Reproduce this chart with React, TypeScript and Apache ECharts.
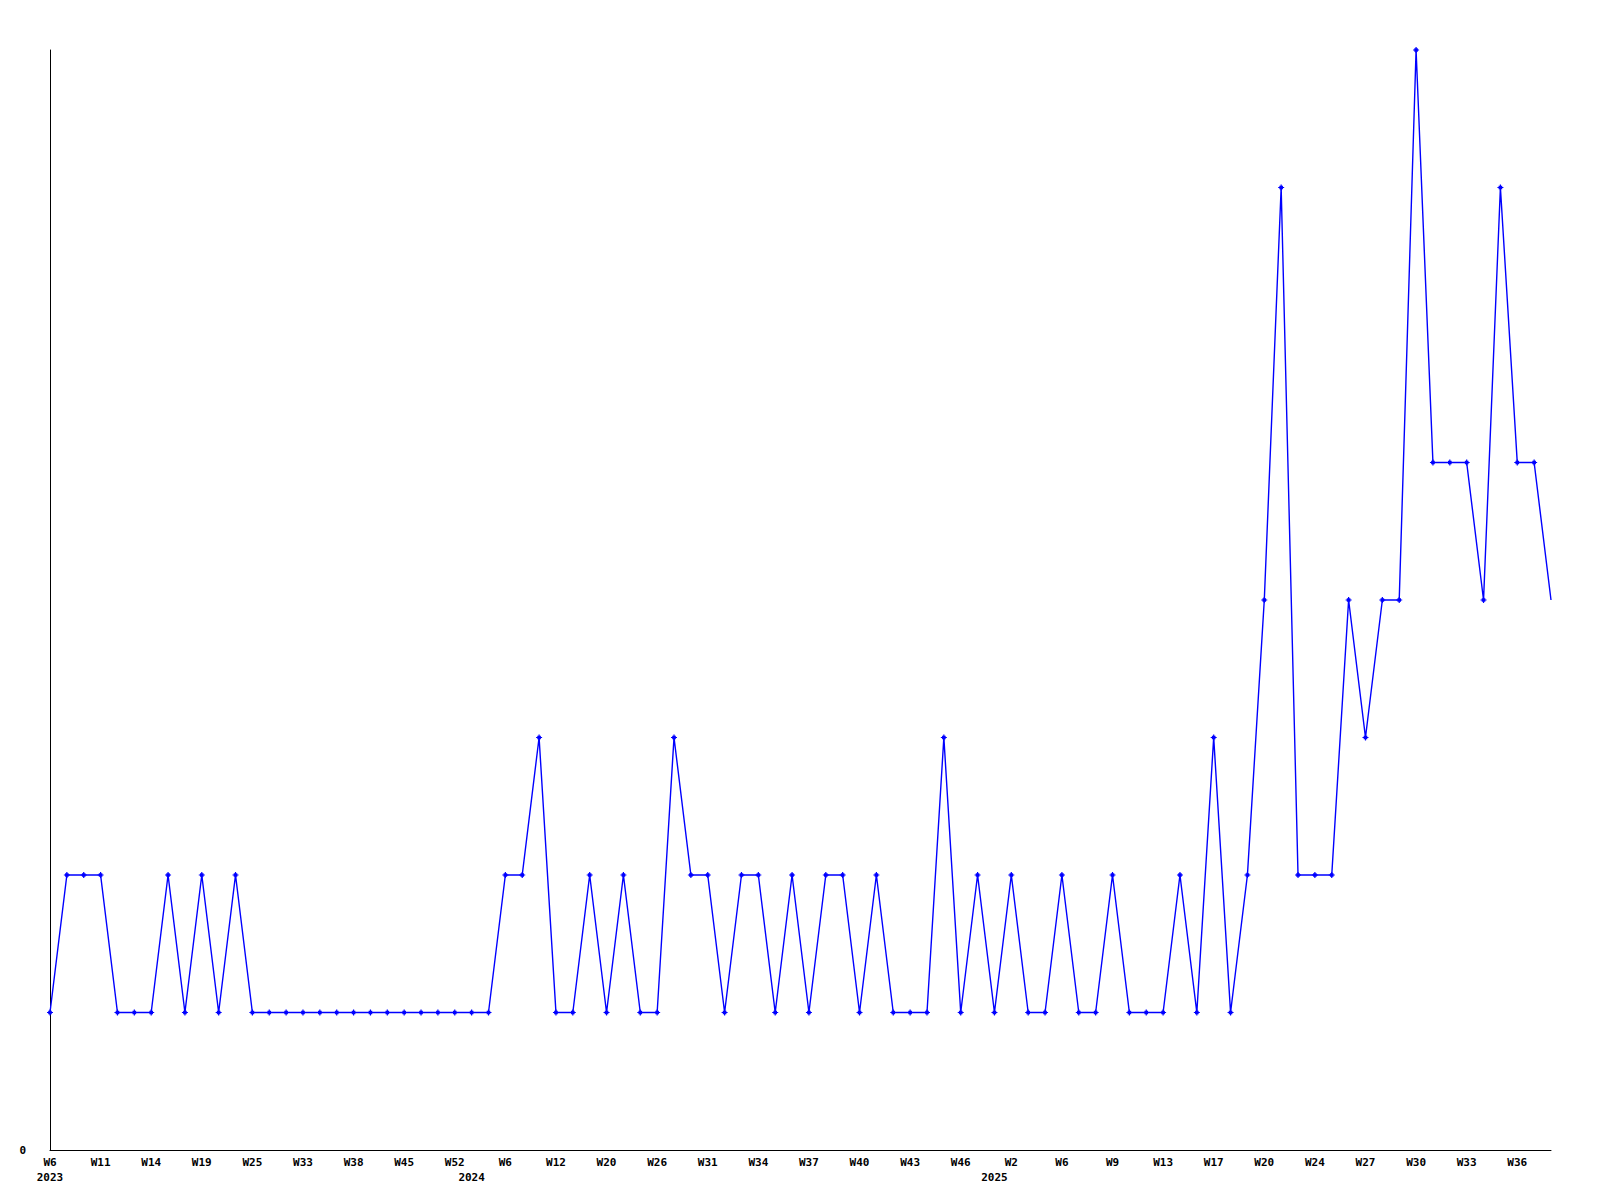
import React, { useEffect, useRef } from 'react';
import * as echarts from 'echarts';

const years: number[] = [
  2023, 2023, 2023, 2023, 2023, 2023, 2023, 2023, 2023, 2023, 2023, 2023, 2023,
  2023, 2023, 2023, 2023, 2023, 2023, 2023, 2023, 2023, 2023, 2023, 2023,
  2024, 2024, 2024, 2024, 2024, 2024, 2024, 2024, 2024, 2024, 2024, 2024, 2024,
  2024, 2024, 2024, 2024, 2024, 2024, 2024, 2024, 2024, 2024, 2024, 2024, 2024,
  2024, 2024, 2024, 2024, 2024,
  2025, 2025, 2025, 2025, 2025, 2025, 2025, 2025, 2025, 2025, 2025, 2025, 2025,
  2025, 2025, 2025, 2025, 2025, 2025, 2025, 2025, 2025, 2025, 2025, 2025, 2025,
  2025, 2025, 2025, 2025, 2025, 2025, 2025, 2025,
];

const weeks: number[] = [
  6, 7, 8, 11, 12, 13, 14, 16, 17, 19, 21, 23, 25, 27, 30, 33, 35, 36, 38, 40, 43, 45, 47, 50, 52,
  2, 4, 6, 8, 10, 12, 15, 17, 20, 22, 24, 26, 28, 29, 31, 32, 33, 34, 35, 36, 37, 38, 39, 40, 41,
  42, 43, 44, 45, 46, 49,
  1, 2, 4, 5, 6, 7, 8, 9, 11, 12, 13, 15, 16, 17, 18, 19, 20, 21, 23, 24, 25, 26, 27, 28, 29, 30,
  31, 32, 33, 34, 35, 36, 37, 38,
];

const values: number[] = [
  1, 2, 2, 2, 1, 1, 1, 2, 1, 2, 1, 2, 1, 1, 1, 1, 1, 1, 1, 1, 1, 1, 1, 1, 1,
  1, 1, 2, 2, 3, 1, 1, 2, 1, 2, 1, 1, 3, 2, 2, 1, 2, 2, 1, 2, 1, 2, 2, 1, 2,
  1, 1, 1, 3, 1, 2,
  1, 2, 1, 1, 2, 1, 1, 2, 1, 1, 1, 2, 1, 3, 1, 2, 4, 7, 2, 2, 2, 4, 3, 4, 4, 8,
  5, 5, 5, 4, 7, 5, 5, 4,
];

const categories = weeks.map((w, i) => `${years[i]}-W${w}`);

const FONT = 'DejaVu Sans Mono';

export default function App() {
  const ref = useRef<HTMLDivElement>(null);
  useEffect(() => {
    const chart = echarts.init(ref.current!, null, { renderer: 'svg' });
    const labelStyle = {
      fontFamily: FONT,
      fontWeight: 'bold' as const,
      fontSize: 11,
      color: '#000',
    };
    chart.setOption({
      animation: false,
      backgroundColor: '#fff',
      grid: { left: 50, top: 50, right: 49, bottom: 50, containLabel: false },
      xAxis: [
        {
          type: 'category',
          data: categories,
          boundaryGap: false,
          axisLine: { show: true, lineStyle: { color: '#000', width: 1 } },
          axisTick: { show: false },
          splitLine: { show: false },
          axisLabel: {
            ...labelStyle,
            interval: 2,
            margin: 7,
            formatter: (v: string) => v.split('-')[1],
          },
        },
        {
          type: 'category',
          data: categories,
          boundaryGap: false,
          position: 'bottom',
          offset: 15,
          axisLine: { show: false },
          axisTick: { show: false },
          splitLine: { show: false },
          axisLabel: {
            ...labelStyle,
            interval: 0,
            margin: 7,
            formatter: (_v: string, i: number) =>
              i === 0 || years[i] !== years[i - 1] ? String(years[i]) : '',
          },
        },
      ],
      yAxis: {
        type: 'value',
        min: 0,
        max: 8,
        interval: 8,
        axisLine: { show: true, lineStyle: { color: '#000', width: 1 } },
        axisTick: { show: false },
        splitLine: { show: false },
        axisLabel: { ...labelStyle, margin: 24, showMaxLabel: false },
      },
      series: [
        {
          type: 'line',
          xAxisIndex: 0,
          data: values.map((v, i) =>
            i === values.length - 1 ? { value: v, symbol: 'none' } : v
          ),
          symbol: 'path://M2 0H3V1H4V2H5V3H4V4H3V5H2V4H1V3H0V2H1V1H2Z',
          symbolSize: 6,
          showSymbol: true,
          lineStyle: { color: '#0000ff', width: 1.4 },
          itemStyle: { color: '#0000ff' },
        },
      ],
    });
    return () => chart.dispose();
  }, []);
  return (
    <div
      ref={ref}
      style={{ position: 'absolute', left: 0, top: 0, width: 1600, height: 1200, background: '#fff' }}
    />
  );
}
